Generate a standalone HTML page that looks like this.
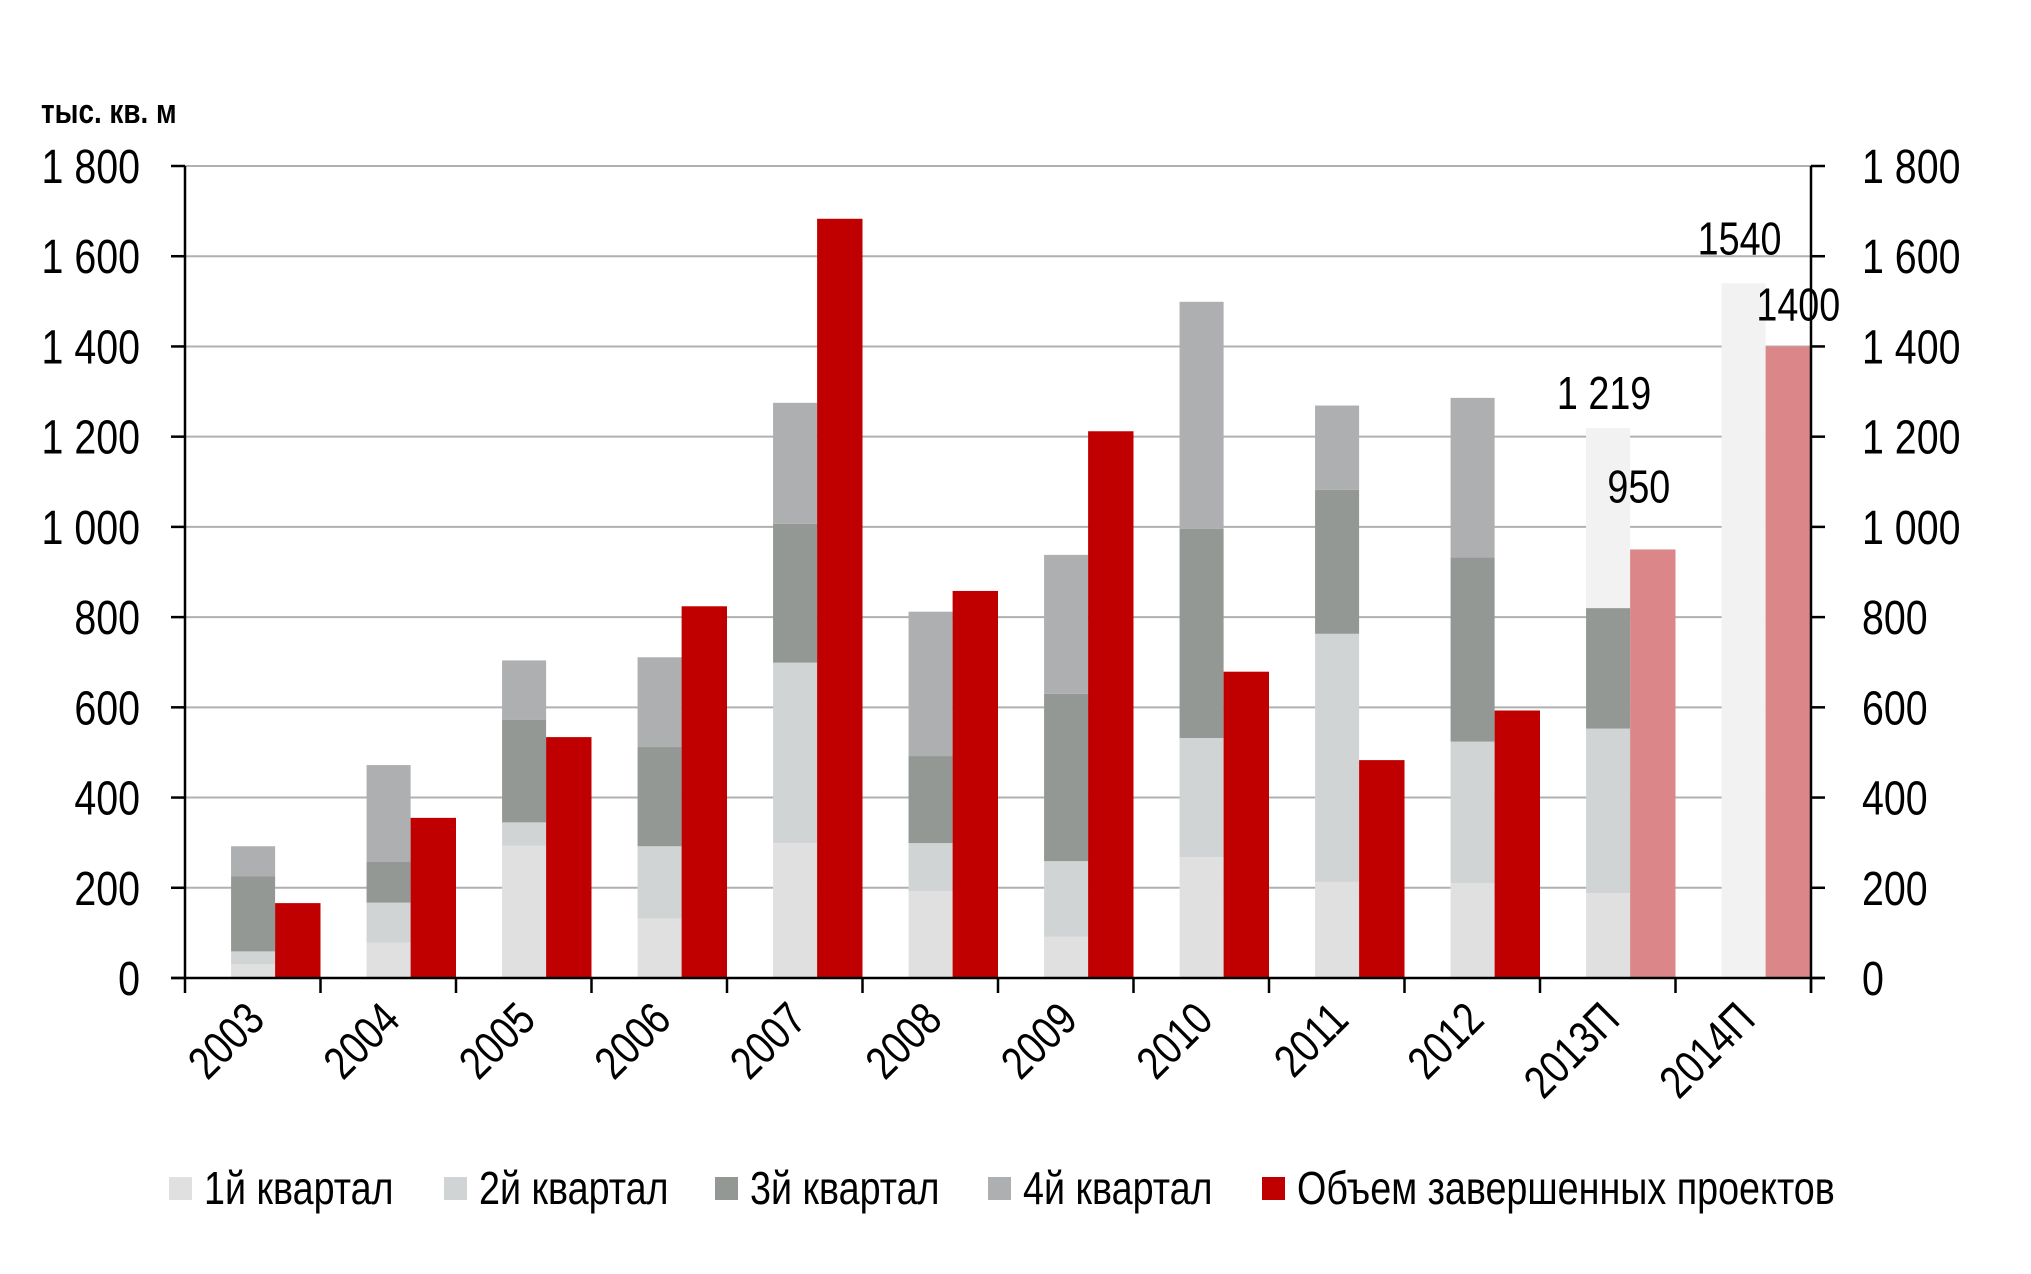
<!DOCTYPE html>
<html><head><meta charset="utf-8"><style>
html,body{margin:0;padding:0;background:#fff;}
svg{display:block;font-family:"Liberation Sans",sans-serif;}
</style></head><body>
<svg id="chart" width="2031" height="1274" viewBox="0 0 2031 1274" xmlns="http://www.w3.org/2000/svg"></svg>
<script>
const categories = ["2003","2004","2005","2006","2007","2008","2009","2010","2011","2012","2013П","2014П"];
const q1 = [31,78,293,132,299,193,92,268,213,210,188,0];
const q2 = [28,89,52,160,400,106,167,264,550,314,365,0];
const q3 = [166,91,227,220,308,193,371,464,319,408,267,0];
const q4 = [67,214,132,199,268,320,308,503,187,354,399,0];
const forecastTotal = [0,0,0,0,0,0,0,0,0,0,0,1540];
const completed = [166,355,534,824,1683,858,1212,679,483,593,950,1400];
const forecastFlag = [0,0,0,0,0,0,0,0,0,0,1,1];
const yTicks = [0,200,400,600,800,1000,1200,1400,1600,1800];
const yTickLabels = ["0","200","400","600","800","1 000","1 200","1 400","1 600","1 800"];
const dataLabels = [{cat:10, side:"stack", value:1219, text:"1 219"},{cat:10, side:"red", value:950, text:"950"},{cat:11, side:"stack", value:1540, text:"1540"},{cat:11, side:"red", value:1400, text:"1400"}];

const NS="http://www.w3.org/2000/svg";
const svg=document.getElementById('chart');
const X0=185, X1=1811, Y0=978, Y1=166, YMAX=1800;
const bw=(X1-X0)/categories.length;
const y=v=>Y0-(v/YMAX)*(Y0-Y1);
const catX=i=>X0+i*bw;
function mk(tag,attrs,parent){const e=document.createElementNS(NS,tag);for(const k in attrs)e.setAttribute(k,attrs[k]);(parent||svg).appendChild(e);return e;}
function txt(x,yy,s,size,anchor,extra){const g=mk('g',{transform:`translate(${x},${yy}) scale(0.82,1)`+(extra||'')});const t=mk('text',{x:0,y:0,'font-size':size,'text-anchor':anchor||'start',fill:'#000'},g);t.textContent=s;return [g,t];}

// title
let [tg,tt]=txt(41,123,"тыс. кв. м",34,'start');
tt.setAttribute('font-weight','bold');



// gridlines and ticks
yTicks.forEach((v,i)=>{
  if(v>0){const l=mk('line',{x1:X0,x2:X1,y1:y(v),y2:y(v),stroke:'#b0b0b0','stroke-width':2});
  
  }
  mk('line',{x1:X0-14,x2:X0,y1:y(v),y2:y(v),stroke:'#000','stroke-width':2.5});
  mk('line',{x1:X1,x2:X1+14,y1:y(v),y2:y(v),stroke:'#000','stroke-width':2.5});
  let [a]=txt(140,y(v)+17,yTickLabels[i],48,'end');
  
  
  let [b]=txt(1862,y(v)+17,yTickLabels[i],48,'start');
  
  
});

// bars
const cols=["#dfe0df","#d1d4d4","#939895","#aeafb0"];
categories.forEach((c,i)=>{
  const gx=catX(i)+bw*0.34, gw=bw*0.325, rx=gx+gw, rw=catX(i+1)-rx;
  if(forecastTotal[i]>0){
    const r=mk('rect',{x:gx,y:y(forecastTotal[i]),width:gw,height:Y0-y(forecastTotal[i]),fill:'#f2f2f2'});
    
    
  }else{
    let cum=0;
    [q1,q2,q3,q4].forEach((arr,k)=>{
      const a=cum,b=cum+arr[i];cum=b;
      const r=mk('rect',{x:gx,y:y(b),width:gw,height:y(a)-y(b),fill:(k===3&&forecastFlag[i])?'#f2f2f2':cols[k]});
      
      
    });
  }
  const r=mk('rect',{x:rx,y:y(completed[i]),width:rw,height:Y0-y(completed[i]),fill:forecastFlag[i]?'#db878a':'#c00000'});
  
  
  mk('line',{x1:catX(i+1),x2:catX(i+1),y1:Y0,y2:Y0+15,stroke:'#000','stroke-width':2.5});
  const cx=catX(i)+bw*0.5+14;
  let [g]=txt(cx,1022,c,46,'end',' ');
  g.setAttribute('transform',`translate(${cx},1022) rotate(-45) scale(0.82,1)`);
  
  
});

// axes
mk('line',{x1:X0,x2:X0,y1:Y1,y2:Y0+15,stroke:'#000','stroke-width':2.5});
mk('line',{x1:X1,x2:X1,y1:Y1,y2:Y0+15,stroke:'#000','stroke-width':2.5});
mk('line',{x1:X0-14,x2:X1+14,y1:Y0,y2:Y0,stroke:'#000','stroke-width':2.5});

// data labels
dataLabels.forEach(d=>{
  const gx=catX(d.cat)+bw*0.34, gw=bw*0.325;
  const cx=d.side==="stack"?gx+gw/2-4:gx+gw+(catX(d.cat+1)-gx-gw)/2+(d.cat===10?-14:10);
  const dy=d.side==="stack"?(d.cat===10?19:29):(d.cat===10?47:26);
  let [g]=txt(cx,y(d.value)-dy,d.text,46,'middle');
  
  
});

// legend
const legendItems=[["1й квартал","#dfe0df",169],["2й квартал","#d1d4d4",444],["3й квартал","#939895",715],["4й квартал","#aeafb0",988],["Объем завершенных проектов","#c00000",1262]];
legendItems.forEach(it=>{
  const g=mk('g',{});
  
  
  mk('rect',{x:it[2],y:1177,width:23,height:23,fill:it[1]},g);
  const t=mk('g',{transform:`translate(${it[2]+35},1204) scale(0.82,1)`},g);
  const tx=mk('text',{x:0,y:0,'font-size':46,fill:'#000'},t);tx.textContent=it[0];
});
</script>
</body></html>
